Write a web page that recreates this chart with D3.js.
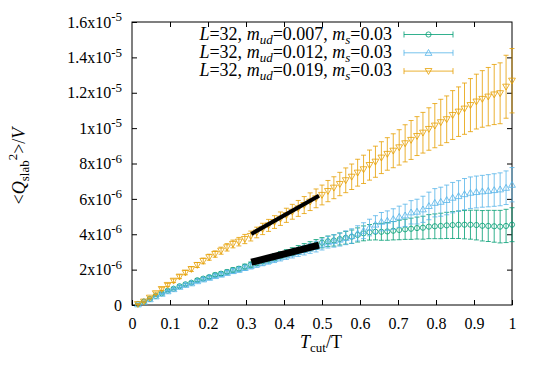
<!DOCTYPE html>
<html>
<head>
<style>
  body { margin: 0; background: #fff; }
  svg text { font-family: "Liberation Serif", "Times New Roman", serif; fill: #000; }
</style>
<script src="https://d3js.org/d3.v7.min.js"></script>
</head>
<body>
<div id="chart"></div>
<script>
// x values: Tcut/T = k/64, k = 1..64
const tcut = d3.range(1, 65).map(k => k / 64);

// <Q_slab^2>/V in units of 1e-6
const legendLabels = ["0.007", "0.012", "0.019"];

const q007 = [0.05,0.19,0.34,0.51,0.66,0.81,0.92,1.06,1.17,1.26,
              1.40,1.49,1.58,1.70,1.77,1.87,1.98,2.05,2.17,2.28,
              2.39,2.50,2.60,2.71,2.82,2.92,3.02,3.12,3.22,3.32,
              3.42,3.52,3.60,3.65,3.73,3.80,3.86,3.96,4.05,4.11,
              4.14,4.14,4.16,4.20,4.24,4.28,4.31,4.35,4.37,4.43,
              4.45,4.47,4.50,4.52,4.54,4.54,4.54,4.52,4.48,4.47,
              4.45,4.43,4.47,4.54];
const e007 = [0.01,0.02,0.03,0.03,0.04,0.05,0.05,0.06,0.06,0.07,
              0.08,0.08,0.09,0.10,0.10,0.11,0.12,0.13,0.14,0.15,
              0.16,0.17,0.18,0.19,0.20,0.21,0.22,0.24,0.25,0.26,
              0.28,0.29,0.30,0.32,0.34,0.36,0.38,0.40,0.42,0.44,
              0.46,0.48,0.50,0.52,0.55,0.57,0.60,0.62,0.65,0.68,
              0.70,0.72,0.74,0.76,0.78,0.80,0.82,0.84,0.86,0.88,
              0.90,0.92,0.94,0.96];

const q012 = [0.04,0.18,0.33,0.49,0.64,0.78,0.90,1.03,1.14,1.23,
              1.35,1.45,1.54,1.64,1.72,1.82,1.92,2.00,2.10,2.20,
              2.30,2.40,2.50,2.60,2.70,2.80,2.90,3.00,3.10,3.20,
              3.30,3.42,3.55,3.62,3.70,3.80,3.90,4.05,4.20,4.38,
              4.55,4.71,4.77,4.86,4.99,5.07,5.24,5.28,5.41,5.60,
              5.78,5.84,5.94,6.07,6.16,6.27,6.35,6.39,6.43,6.46,
              6.50,6.54,6.63,6.80];
const e012 = [0.01,0.02,0.03,0.03,0.04,0.05,0.05,0.06,0.07,0.07,
              0.08,0.09,0.10,0.10,0.11,0.12,0.13,0.14,0.15,0.16,
              0.17,0.18,0.19,0.20,0.21,0.22,0.24,0.25,0.27,0.28,
              0.30,0.31,0.33,0.35,0.37,0.39,0.41,0.43,0.45,0.47,
              0.50,0.52,0.55,0.58,0.60,0.63,0.66,0.70,0.74,0.78,
              0.80,0.82,0.84,0.86,0.87,0.88,0.89,0.90,0.90,0.91,
              0.92,0.93,0.95,0.97];

const q019 = [0.05,0.19,0.41,0.66,0.90,1.13,1.37,1.60,1.83,2.03,
              2.26,2.49,2.70,2.88,3.07,3.26,3.45,3.58,3.73,3.90,
              4.10,4.30,4.50,4.69,4.88,5.07,5.27,5.46,5.65,5.84,
              6.03,6.22,6.44,6.63,6.84,7.05,7.25,7.48,7.67,7.91,
              8.10,8.33,8.54,8.72,8.91,9.14,9.33,9.55,9.74,9.95,
              10.14,10.33,10.50,10.74,10.93,11.10,11.30,11.50,11.65,11.78,
              11.90,11.97,12.34,12.68];
const e019 = [0.02,0.04,0.05,0.07,0.08,0.09,0.10,0.11,0.12,0.13,
              0.14,0.16,0.17,0.18,0.20,0.21,0.22,0.24,0.26,0.28,
              0.30,0.32,0.34,0.36,0.38,0.40,0.42,0.45,0.48,0.50,
              0.53,0.56,0.60,0.62,0.66,0.70,0.72,0.76,0.80,0.85,
              0.88,0.90,0.92,0.96,1.00,1.05,1.10,1.10,1.15,1.20,
              1.25,1.30,1.32,1.38,1.40,1.45,1.50,1.55,1.60,1.65,
              1.70,1.72,1.78,1.82];

// two straight reference segments (x, value in 1e-6)
const fitA = [[0.314, 4.02], [0.492, 6.17]];
const fitB = [[0.314, 2.42], [0.492, 3.38]];

// tick labels
const xTicks = [0, 0.1, 0.2, 0.3, 0.4, 0.5, 0.6, 0.7, 0.8, 0.9, 1];
const yTicks = [0, 2, 4, 6, 8, 10, 12, 14, 16];
const yTickMant = ["0", "2x10", "4x10", "6x10", "8x10", "1x10", "1.2x10", "1.4x10", "1.6x10"];
const yTickExp = ["", "-6", "-6", "-6", "-6", "-5", "-5", "-5", "-5"];

const series = [
  { mud: legendLabels[0], vals: q007, errs: e007, color: "#009e73", marker: "circle" },
  { mud: legendLabels[1], vals: q012, errs: e012, color: "#56b4e9", marker: "up" },
  { mud: legendLabels[2], vals: q019, errs: e019, color: "#e69f00", marker: "down" }
];

const W = 545, H = 382;
const svg = d3.select("#chart").append("svg")
  .attr("width", W).attr("height", H);

const x = d3.scaleLinear().domain([0, 1]).range([132, 512]);
const y = d3.scaleLinear().domain([0, 16]).range([305, 22]);

// axes, gnuplot style: ticks inside, mirrored
const xAxis = svg.append("g")
  .attr("transform", `translate(0,${y(0)})`)
  .call(d3.axisBottom(x).tickValues(xTicks).tickFormat(d3.format("")).tickSizeInner(-5).tickSizeOuter(0).tickPadding(13));
svg.append("g")
  .attr("transform", `translate(0,${y(16)})`)
  .call(d3.axisTop(x).tickValues(xTicks.slice(1, -1)).tickFormat("").tickSizeInner(-5).tickSizeOuter(0));

const yAxis = svg.append("g")
  .attr("transform", `translate(${x(0)},0)`)
  .call(d3.axisLeft(y).tickValues(yTicks).tickFormat("").tickSizeInner(-5).tickSizeOuter(0).tickPadding(10));
svg.append("g")
  .attr("transform", `translate(${x(1)},0)`)
  .call(d3.axisRight(y).tickValues(yTicks.slice(1, -1)).tickFormat("").tickSizeInner(-5).tickSizeOuter(0));

svg.selectAll(".domain").remove();
svg.selectAll(".tick line").attr("stroke", "#000");
xAxis.selectAll("text").attr("font-size", 16).attr("font-family", "Liberation Serif");

// y tick labels with superscript exponents
yAxis.selectAll(".tick").each(function (d, i) {
  const t = d3.select(this).select("text")
    .attr("font-size", 16).attr("font-family", "Liberation Serif")
    .attr("dy", "0.32em").text(null);
  t.append("tspan").text(yTickMant[i]);
  if (yTickExp[i]) t.append("tspan").attr("font-size", 13).attr("dy", "-0.5em").text(yTickExp[i]);
});

// border
svg.append("rect")
  .attr("x", x(0)).attr("y", y(16))
  .attr("width", x(1) - x(0)).attr("height", y(0) - y(16))
  .attr("fill", "none").attr("stroke", "#000").attr("stroke-width", 1);

// markers
const triUp = d3.symbol().type(d3.symbolTriangle).size(20)();
function drawMarker(g, kind, cx, cy, color) {
  if (kind === "circle") {
    g.append("circle").attr("cx", cx).attr("cy", cy).attr("r", 2.6)
      .attr("fill", "none").attr("stroke", color);
  } else {
    g.append("path").attr("d", triUp)
      .attr("transform", `translate(${cx},${cy + (kind === "down" ? -0.6 : 0.6)}) rotate(${kind === "down" ? 180 : 0})`)
      .attr("fill", "none").attr("stroke", color);
  }
}

const plot = svg.append("g");
series.forEach(s => {
  const g = plot.append("g").attr("stroke-opacity", 0.8);
  s.vals.forEach((v, i) => {
    const cx = x(tcut[i]);
    const lo = y(v - s.errs[i]), hi = y(v + s.errs[i]);
    g.append("line").attr("x1", cx).attr("x2", cx).attr("y1", lo).attr("y2", hi)
      .attr("stroke", s.color);
    g.append("line").attr("x1", cx - 2.5).attr("x2", cx + 2.5).attr("y1", lo).attr("y2", lo)
      .attr("stroke", s.color);
    g.append("line").attr("x1", cx - 2.5).attr("x2", cx + 2.5).attr("y1", hi).attr("y2", hi)
      .attr("stroke", s.color);
    drawMarker(g, s.marker, cx, y(v), s.color);
  });
});

// black segments
const segLine = d3.line().x(d => x(d[0])).y(d => y(d[1]));
svg.append("path").attr("d", segLine(fitA)).attr("stroke", "#000").attr("stroke-width", 4).attr("fill", "none");
svg.append("path").attr("d", segLine(fitB)).attr("stroke", "#000").attr("stroke-width", 7).attr("fill", "none");

// legend
const legend = svg.append("g");
series.forEach((s, i) => {
  const ly = 34.5 + i * 18.3;
  const t = legend.append("text").attr("x", 392).attr("y", ly + 5)
    .attr("text-anchor", "end").attr("font-size", 18);
  t.append("tspan").attr("font-style", "italic").text("L");
  t.append("tspan").text("=32, ");
  t.append("tspan").attr("font-style", "italic").text("m");
  t.append("tspan").attr("font-style", "italic").attr("font-size", 13).attr("dy", 4).text("ud");
  t.append("tspan").attr("dy", -4).text("=" + s.mud + ", ");
  t.append("tspan").attr("font-style", "italic").text("m");
  t.append("tspan").attr("font-style", "italic").attr("font-size", 13).attr("dy", 4).text("s");
  t.append("tspan").attr("dy", -4).text("=0.03");

  const g = legend.append("g").attr("stroke-opacity", 0.8);
  g.append("line").attr("x1", 404).attr("x2", 453).attr("y1", ly).attr("y2", ly).attr("stroke", s.color);
  g.append("line").attr("x1", 404).attr("x2", 404).attr("y1", ly - 3).attr("y2", ly + 3).attr("stroke", s.color);
  g.append("line").attr("x1", 453).attr("x2", 453).attr("y1", ly - 3).attr("y2", ly + 3).attr("stroke", s.color);
  drawMarker(g, s.marker, 428.5, ly, s.color);
});

// axis titles
const xt = svg.append("text").attr("x", 321).attr("y", 348)
  .attr("text-anchor", "middle").attr("font-size", 18);
xt.append("tspan").attr("font-style", "italic").text("T");
xt.append("tspan").attr("font-size", 13).attr("dy", 4).text("cut");
xt.append("tspan").attr("dy", -4).text("/T");

const yt = svg.append("text")
  .attr("transform", "translate(25,166) rotate(-90)")
  .attr("text-anchor", "middle").attr("font-size", 18);
yt.append("tspan").text("<");
yt.append("tspan").attr("font-style", "italic").text("Q");
yt.append("tspan").attr("font-size", 13).attr("dy", 4).text("slab");
yt.append("tspan").attr("font-size", 13).attr("dy", -12).text("2");
yt.append("tspan").attr("dy", 8).text(">/");
yt.append("tspan").attr("font-style", "italic").text("V");
</script>
</body>
</html>
